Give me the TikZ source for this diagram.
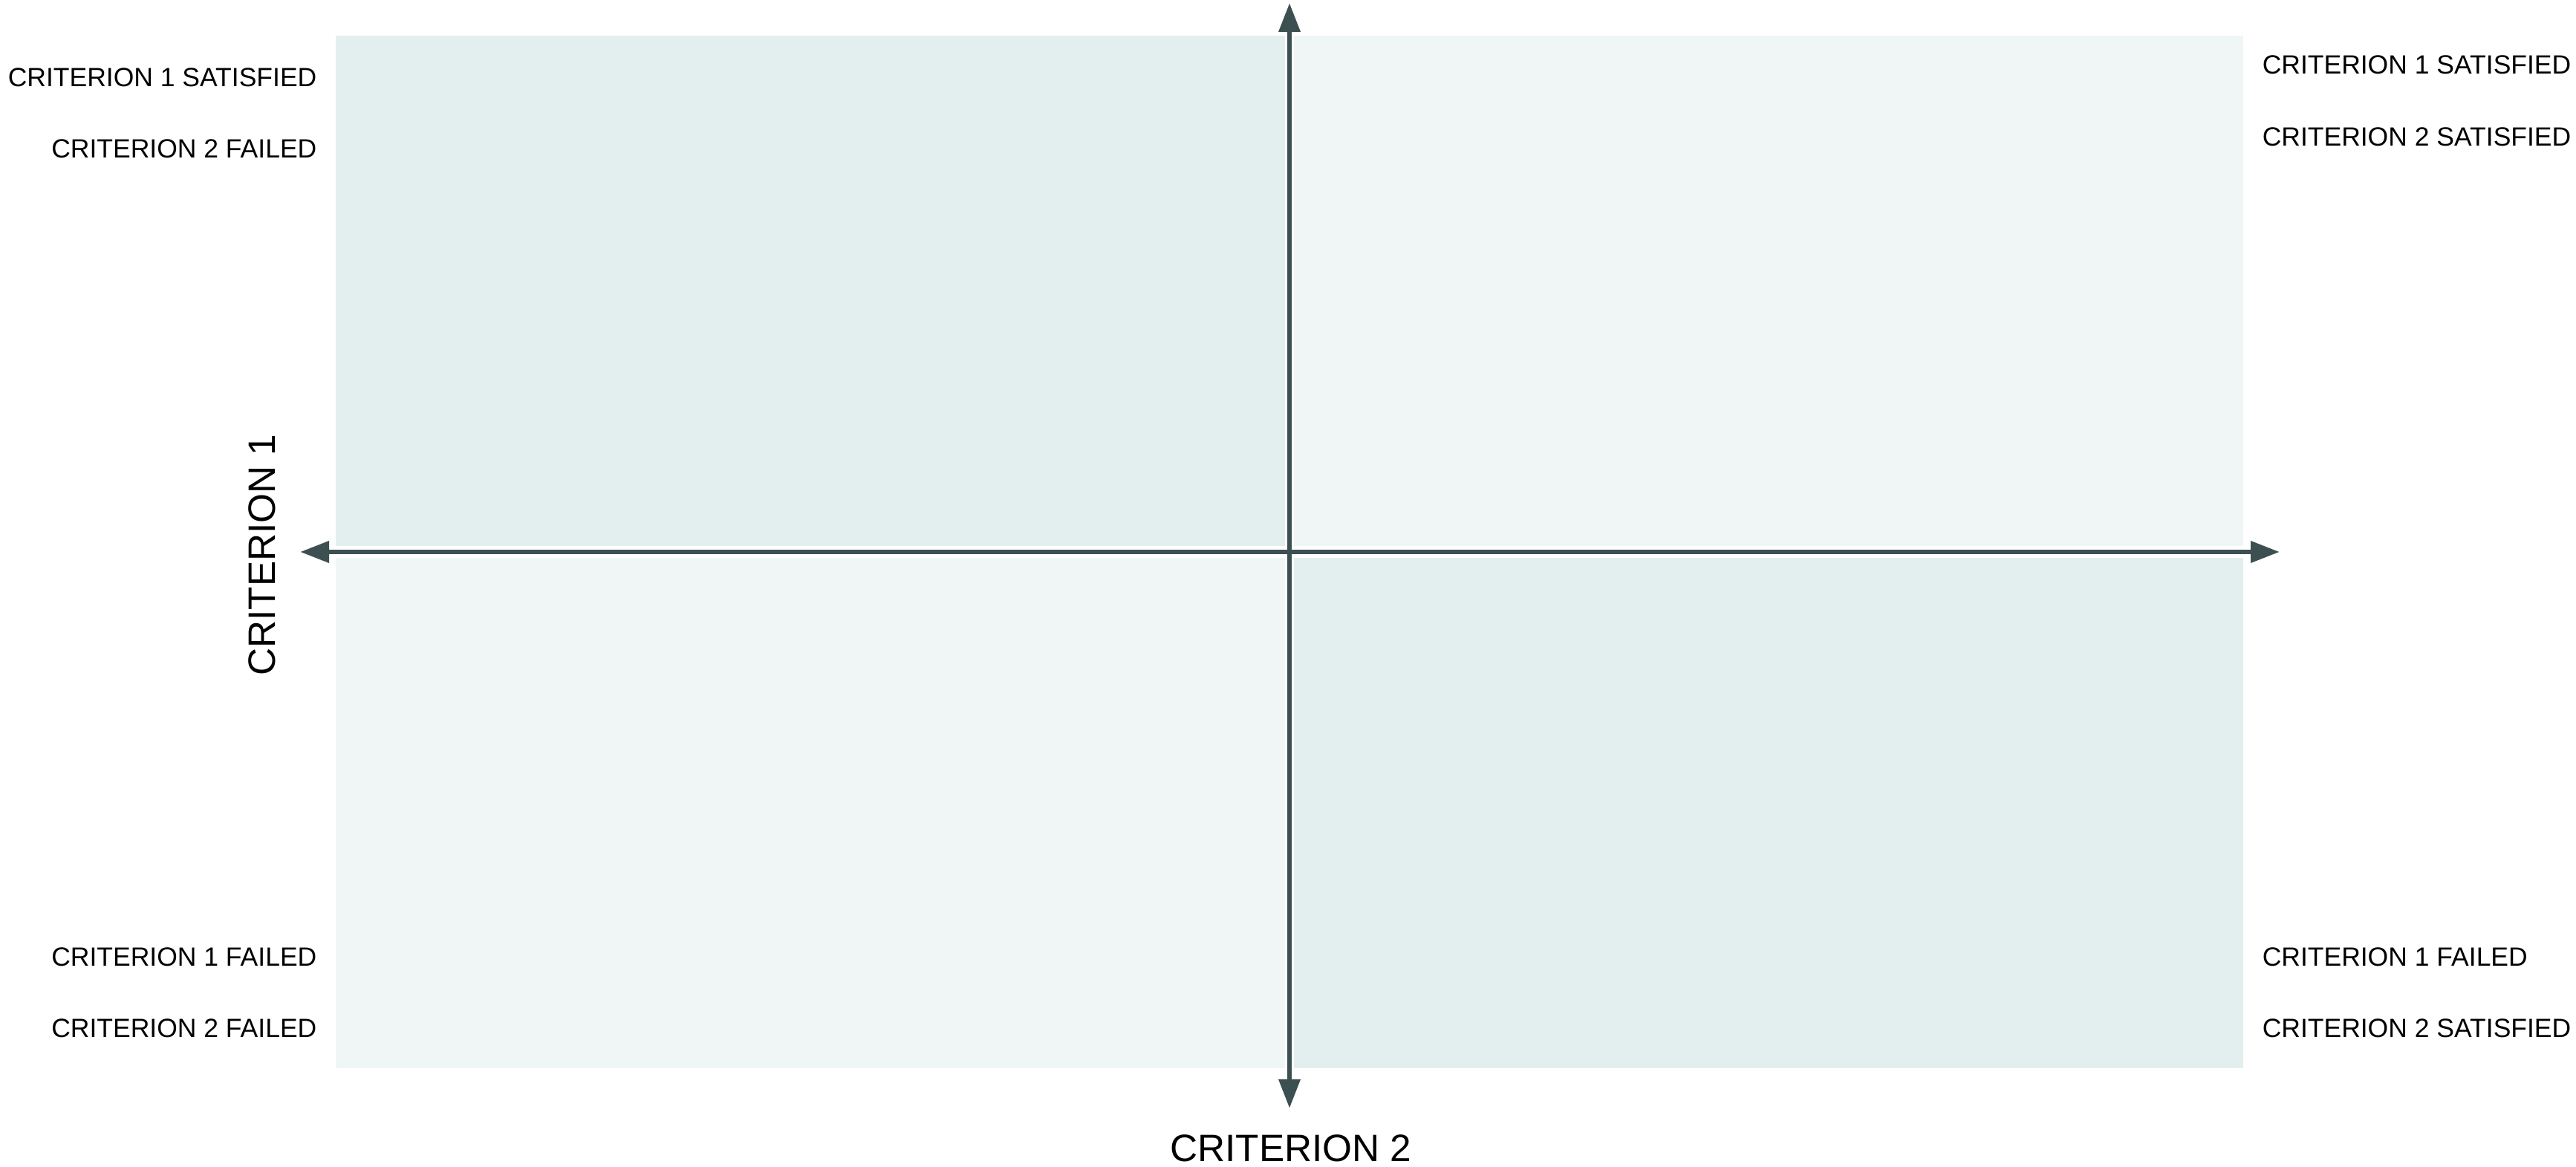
\documentclass[tikz,border=0pt]{standalone}
\usepackage{fontspec}
\setmainfont{Liberation Sans}
\usetikzlibrary{arrows.meta}
\definecolor{quaddark}{RGB}{227,239,239}
\definecolor{quadlight}{RGB}{240,246,246}
\definecolor{axisgray}{RGB}{61,80,81}
\tikzset{
  quad/.style={draw=none},
  axisline/.style={draw=axisgray,line width=1.9pt,
    {Triangle[length=0.39cm,width=0.28cm]}-{Triangle[length=0.39cm,width=0.28cm]}},
  small/.style={font=\fontsize{10.1pt}{12pt}\selectfont,inner sep=0pt},
  big/.style={font=\fontsize{14.6pt}{17pt}\selectfont,inner sep=0pt}
}
\begin{document}
\begin{tikzpicture}[x=1cm,y=1cm]
  \useasboundingbox (0,0) rectangle (34.68,15.71);
  % quadrants
  \fill[quaddark]  (4.52,15.23) rectangle (17.30,8.36);
  \fill[quadlight] (17.42,15.23) rectangle (30.20,8.36);
  \fill[quadlight] (4.52,8.20) rectangle (17.30,1.33);
  \fill[quaddark]  (17.42,8.20) rectangle (30.20,1.33);
  % axes
  \coordinate (west) at (4.04,8.28);
  \coordinate (east) at (30.69,8.28);
  \coordinate (north) at (17.36,15.67);
  \coordinate (south) at (17.36,0.79);
  \draw[axisline] (west) -- (east);
  \draw[axisline] (south) -- (north);
  % axis titles
  \node[big,anchor=base] (crit2) at (17.38,0.07) {CRITERION 2};
  \node[big,anchor=base,rotate=90] (crit1) at (3.70,8.24) {CRITERION 1};
  % corner labels
  \node[small,anchor=base east] (tl1) at (4.27,14.54) {CRITERION 1 SATISFIED};
  \node[small,anchor=base east] (tl2) at (4.27,13.58) {CRITERION 2 FAILED};
  \node[small,anchor=base west] (tr1) at (30.45,14.71) {CRITERION 1 SATISFIED};
  \node[small,anchor=base west] (tr2) at (30.45,13.74) {CRITERION 2 SATISFIED};
  \node[small,anchor=base east] (bl1) at (4.27,2.70) {CRITERION 1 FAILED};
  \node[small,anchor=base east] (bl2) at (4.27,1.74) {CRITERION 2 FAILED};
  \node[small,anchor=base west] (br1) at (30.45,2.70) {CRITERION 1 FAILED};
  \node[small,anchor=base west] (br2) at (30.45,1.74) {CRITERION 2 SATISFIED};
\end{tikzpicture}
\end{document}
